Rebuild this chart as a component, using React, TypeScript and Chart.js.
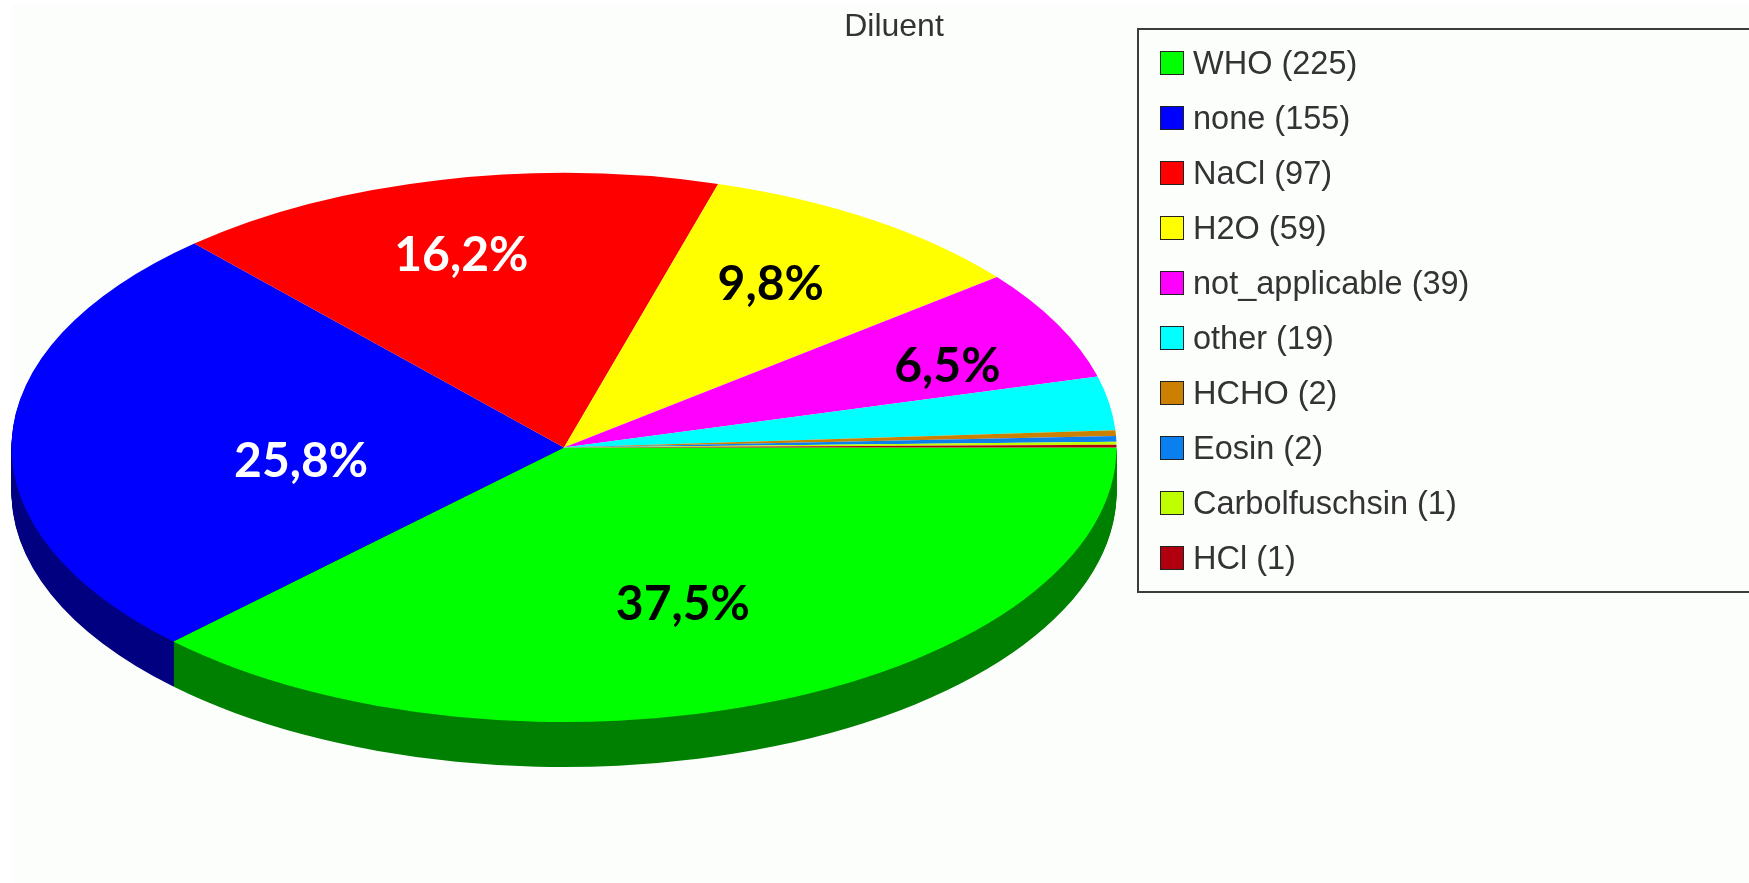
import React, { useEffect, useRef } from "react";
import { Chart, registerables } from "chart.js";

Chart.register(...registerables);

const titleText = "Diluent";
const categories = ["WHO", "none", "NaCl", "H2O", "not_applicable", "other", "HCHO", "Eosin", "Carbolfuschsin", "HCl"];
const seriesValues = [225, 155, 97, 59, 39, 19, 2, 2, 1, 1];
const sliceColors = ["#00ff00", "#0000ff", "#ff0000", "#ffff00", "#ff00ff", "#00ffff", "#cc8000", "#0a80f0", "#c0ff00", "#b00010"];
const percentLabels = ["37,5%", "25,8%", "16,2%", "9,8%", "6,5%", "", "", "", "", ""];
const percentColors = ["#000", "#fff", "#fff", "#000", "#000", "", "", "", "", ""];

// where each printed percentage sits: fraction of the way to the slice's rim point, then a nudge
const labelPlacement = [
  { f: 0.6, dx: -8, dy: 4.5 },
  { f: 0.476, dx: 0, dy: 17 },
  { f: 0.76, dx: -9, dy: 11 },
  { f: 0.7, dx: -9, dy: -3.3 },
  { f: 0.72, dx: 28, dy: 8 },
];

const PIE = { cx: 564, cy: 447.5, rx: 552.5, ry: 274.5, depth: 45 };
const BOX = { left: 1138, top: 29, bottom: 592 };

function darken(hex: string) {
  const n = parseInt(hex.slice(1), 16);
  const f = (v: number) => Math.round(v * 0.5);
  return `rgb(${f((n >> 16) & 255)},${f((n >> 8) & 255)},${f(n & 255)})`;
}

function applyTilt(ctx: CanvasRenderingContext2D, el: any, dy: number) {
  ctx.translate(PIE.cx, PIE.cy + dy);
  ctx.scale(PIE.rx / el.outerRadius, PIE.ry / el.outerRadius);
  ctx.translate(-el.x, -el.y);
}

const tiltedPie = {
  id: "tiltedPie",
  beforeDraw(chart: any) {
    const { ctx, width, height } = chart;
    ctx.save();
    ctx.fillStyle = "#ffffff";
    ctx.fillRect(0, 0, width, height);
    ctx.fillStyle = "#fcfefc";
    ctx.fillRect(12, 5, width - 12, height - 5);
    ctx.restore();
  },
  beforeDatasetDraw(chart: any) {
    const { ctx } = chart;
    const arcs = chart.getDatasetMeta(0).data;
    // side wall: only the slices that reach the front half of the rim
    for (let d = PIE.depth; d >= 1; d--) {
      arcs.forEach((el: any, i: number) => {
        if (el.startAngle >= Math.PI) return;
        const saved = el.options;
        const wall = Object.create(saved);
        Object.defineProperty(wall, "backgroundColor", { value: darken(sliceColors[i]) });
        el.options = wall;
        ctx.save();
        applyTilt(ctx, el, d);
        el.draw(ctx);
        ctx.restore();
        el.options = saved;
      });
    }
    ctx.save();
    applyTilt(ctx, arcs[0], 0);
  },
  afterDatasetDraw(chart: any) {
    chart.ctx.restore();
  },
  afterDraw(chart: any) {
    const { ctx, width } = chart;
    const arcs = chart.getDatasetMeta(0).data;
    ctx.save();
    ctx.textBaseline = "middle";

    // percentages
    ctx.textAlign = "center";
    ctx.font = "bold 48px Lato";
    arcs.forEach((el: any, i: number) => {
      if (!percentLabels[i]) return;
      const mid = (el.startAngle + el.endAngle) / 2;
      const p = labelPlacement[i];
      ctx.fillStyle = percentColors[i];
      ctx.fillText(
        percentLabels[i],
        PIE.cx + Math.cos(mid) * PIE.rx * p.f + p.dx,
        PIE.cy + Math.sin(mid) * PIE.ry * p.f + p.dy,
      );
    });

    // title
    ctx.fillStyle = "#333";
    ctx.font = "32px 'Liberation Sans'";
    ctx.fillText(titleText, 894, 27);

    // legend
    ctx.strokeStyle = "#3c3c3c";
    ctx.lineWidth = 2;
    ctx.beginPath();
    ctx.moveTo(width + 2, BOX.top);
    ctx.lineTo(BOX.left, BOX.top);
    ctx.lineTo(BOX.left, BOX.bottom);
    ctx.lineTo(width + 2, BOX.bottom);
    ctx.stroke();
    ctx.textAlign = "left";
    ctx.font = "32.5px 'Liberation Sans'";
    categories.forEach((name, i) => {
      const y = 63 + i * 55;
      ctx.fillStyle = sliceColors[i];
      ctx.fillRect(1161, y - 11, 22, 22);
      ctx.strokeStyle = "#222";
      ctx.lineWidth = 1;
      ctx.strokeRect(1160.5, y - 11.5, 23, 23);
      ctx.fillStyle = "#333";
      ctx.fillText(`${name} (${seriesValues[i]})`, 1193, y + 2);
    });
    ctx.restore();
  },
};

export default function App() {
  const ref = useRef<HTMLCanvasElement>(null);
  useEffect(() => {
    document.body.style.margin = "0";
    const chart = new Chart(ref.current!, {
      type: "pie",
      data: {
        labels: categories,
        datasets: [{ data: seriesValues, backgroundColor: sliceColors, borderWidth: 0, clip: false } as any],
      },
      options: {
        animation: false,
        responsive: false,
        rotation: 90,
        layout: { padding: { left: 12, right: 634, top: 12, bottom: 0 } },
        plugins: { legend: { display: false }, tooltip: { enabled: false }, title: { display: false } },
      },
      plugins: [tiltedPie],
    });
    return () => chart.destroy();
  }, []);
  return <canvas ref={ref} width={1749} height={883} style={{ display: "block", width: 1749, height: 883 }} />;
}
